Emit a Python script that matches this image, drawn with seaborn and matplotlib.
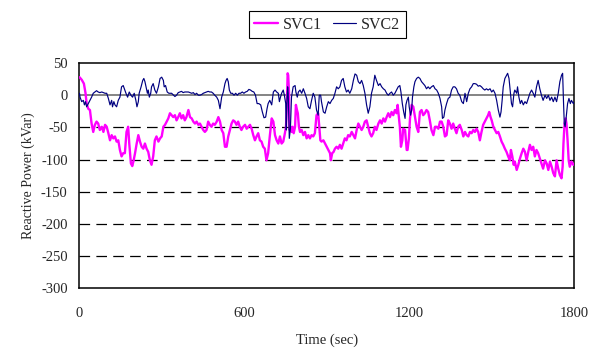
import numpy as np
import pandas as pd
import matplotlib
matplotlib.use("Agg")
import matplotlib.pyplot as plt
import seaborn as sns

# SVC1 reactive power (kVar)
svc1_time = [0, 8, 16, 22, 26, 32, 38, 44, 50, 56, 62, 68, 74, 81, 87, 93, 99, 105, 111, 117,
             123, 129, 135, 141, 147, 153, 159, 165, 171, 177, 181, 187, 192, 197, 202, 208, 214, 220, 226, 232,
             238, 244, 250, 256, 262, 268, 274, 280, 287, 293, 299, 305, 311, 317, 323, 329, 335, 341,
             347, 353, 359, 365, 371, 377, 383, 389, 396, 402, 408, 414, 420, 426, 432, 438, 444, 450, 456, 462,
             468, 474, 480, 486, 492, 499, 505, 511, 517, 523, 529, 535, 541, 547, 553, 559, 565, 571, 577, 583,
             589, 595, 602, 608, 614, 620, 626, 632, 638, 644, 650, 656, 662, 668, 674, 680, 686, 692, 699, 705,
             711, 717, 723, 729, 735, 741, 747, 751, 754, 757, 759, 762, 764, 768, 771, 775, 779, 784, 787, 791,
             794, 798, 802, 808, 814, 820, 826, 832, 838, 844, 850, 856, 862, 868, 872, 876, 880, 887, 893, 899,
             905, 911, 914, 919, 924, 929, 935, 941, 947, 953, 959, 965, 971, 977, 983, 990, 996, 1002, 1008, 1014,
             1020, 1026, 1032, 1038, 1044, 1050, 1056, 1062, 1068,
             1074, 1080, 1087, 1093, 1099, 1105, 1111, 1117, 1123, 1129, 1135, 1141, 1147, 1153, 1157, 1162, 1165, 1169, 1174, 1177,
             1184, 1190, 1193, 1198, 1202, 1208, 1214, 1220, 1226, 1232, 1238, 1244, 1250, 1256, 1262, 1268, 1274, 1280, 1287, 1293,
             1299, 1305, 1311, 1317, 1323, 1329, 1335, 1341, 1347, 1353, 1359, 1365, 1371, 1377, 1383, 1390, 1396, 1402, 1408, 1414,
             1420, 1426, 1432,
             1438, 1444, 1450, 1456, 1462, 1468, 1474, 1480, 1486, 1490, 1495, 1499, 1505, 1511, 1517, 1523, 1529, 1535, 1541, 1547,
             1553, 1559, 1565, 1569, 1574, 1579, 1583, 1590, 1596, 1602, 1608, 1614, 1620, 1626, 1632, 1638, 1644, 1650, 1656, 1662,
             1668, 1674, 1680, 1686, 1693, 1699, 1705, 1711, 1717, 1723, 1729, 1735, 1741, 1747, 1753, 1757, 1760, 1764, 1768, 1771,
             1775, 1779, 1783, 1789, 1796, 1800]
svc1_kvar = [28, 24, 18, 3, -13, -21, -23, -44, -57, -46, -41, -44, -54, -49, -57, -46, -49, -59, -70, -62,
             -67, -64, -72, -70, -85, -95, -90, -90, -57, -49, -75, -106, -110, -101, -90, -75, -62, -72, -80, -83,
             -75, -83, -88, -101, -108, -95, -70, -64, -72, -67, -64, -49, -46, -41, -36, -28, -31, -34,
             -31, -39, -34, -28, -36, -31, -39, -34, -23, -34, -36, -41, -44, -41, -46, -44, -49, -54, -57, -54,
             -41, -46, -49, -44, -46, -41, -34, -41, -54, -59, -80, -80, -64, -54, -44, -39, -41, -46, -41, -49,
             -54, -49, -46, -52, -49, -46, -52, -62, -70, -64, -59, -70, -72, -80, -83, -101, -90, -64, -36, -41,
             -62, -70, -75, -64, -75, -72, -59, -49, -18, 34, 31, 3, -54, -49, -57, -49, -59, -49, -15, -23,
             -28, -49, -57, -54, -62, -57, -67, -62, -67, -62, -64, -59, -31, -28, -49, -70, -72, -70, -75, -80,
             -85, -90, -101, -90, -88, -83, -80, -83, -77, -83, -75, -67, -70, -62, -64, -57, -62, -67, -54, -44,
             -49, -54, -49, -41, -39, -49, -59, -64, -59,
             -49, -54, -44, -39, -44, -36, -41, -34, -28, -34, -26, -31, -23, -28, -15, -36, -49, -80, -70, -52,
             -54, -85, -85, -67, -36, -15, -18, -34, -49, -57, -26, -23, -31, -28, -23, -26, -39, -54, -62, -49,
             -49, -52, -41, -41, -49, -64, -62, -39, -44, -52, -44, -52, -59, -49, -46, -54, -64, -57, -62, -64,
             -57, -59, -54,
             -57, -52, -57, -70, -57, -46, -41, -36, -31, -26, -34, -39, -49, -54, -59, -57, -64, -72, -77, -83,
             -88, -95, -101, -85, -95, -108, -103, -116, -108, -98, -90, -83, -88, -101, -88, -77, -85, -80, -95, -85,
             -90, -98, -106, -114, -101, -106, -116, -103, -111, -121, -126, -101, -114, -124, -129, -111, -75, -44, -36, -44,
             -70, -101, -111, -103, -108, -106]

# SVC2 reactive power (kVar)
svc2_time = [0, 2, 8, 14, 18, 22, 26, 32, 38, 44, 50, 56, 62, 68, 74, 81, 87, 93, 99, 105,
             111, 117, 120, 125, 129, 135, 141, 147, 153, 159, 165, 169, 175, 181, 187, 193, 199, 205, 209, 214,
             217, 224, 230, 234, 238, 242, 247, 250, 254, 259, 262, 268, 274, 280, 287, 293, 299, 305, 308, 313,
             319, 325, 335,
             347, 353, 359, 365, 371, 377, 383, 396, 402, 408, 414, 420, 426, 432, 438, 444, 450, 456, 462, 468,
             474, 480, 486, 492, 499, 505, 511, 517, 523, 529, 533, 537, 541, 545, 550, 556, 562, 568, 574, 580,
             586, 592, 598, 604, 610, 616, 622, 628, 634, 640, 646, 652, 659, 665, 671, 677, 682, 686, 692, 699,
             705,
             711, 717, 723, 727, 731, 735, 741, 745, 750, 752, 754, 757, 759, 763, 767, 771, 777, 784, 787, 792,
             796, 802, 808, 814, 820, 826, 832, 838, 844, 850, 856, 862, 868, 872, 877, 880, 887, 893, 899, 905,
             911, 917, 923, 929, 935, 941, 947, 953, 959, 965, 971, 977, 983, 990, 996, 1002, 1008, 1014, 1020, 1026,
             1032, 1038, 1044, 1050, 1056, 1062, 1068,
             1074, 1080, 1087, 1093, 1099, 1105, 1111, 1117, 1123, 1129, 1135, 1141, 1147, 1153, 1159, 1165, 1169, 1174, 1179, 1184,
             1187, 1191, 1196, 1199, 1204, 1208, 1211, 1216, 1220, 1226, 1232, 1238, 1244, 1250, 1256, 1262, 1268, 1274, 1280, 1287,
             1293, 1299, 1305, 1311, 1317, 1320, 1325, 1329, 1335, 1341, 1347, 1353, 1359, 1365, 1371, 1377, 1383, 1390, 1396, 1402,
             1408, 1414, 1420, 1426, 1432,
             1438, 1444, 1450, 1456, 1462, 1468, 1474, 1480, 1486, 1493, 1499, 1505, 1511, 1517, 1523, 1529, 1533, 1537, 1541, 1547,
             1553, 1557, 1562, 1566, 1571, 1575, 1580, 1583, 1590, 1593, 1598, 1603, 1608, 1614, 1620, 1626, 1632, 1638, 1644, 1650,
             1656, 1662, 1668, 1674, 1680, 1686, 1693, 1699, 1705, 1711, 1717, 1723, 1729, 1735, 1741, 1747, 1753, 1757, 1760, 1763,
             1766, 1770, 1775, 1780, 1785, 1789, 1796, 1800]
svc2_kvar = [3, -3, -10, -8, -15, -10, -18, -13, -8, -3, 3, 5, 7, 5, 4, 5, 4, 3, 3, -5,
             -15, -8, -18, -10, -15, -18, -8, -3, 13, 15, 8, 3, -3, 5, 0, -3, 3, -8, -18, -10,
             3, 13, 23, 26, 21, 13, 3, 8, -3, 3, 13, 18, 8, 3, 13, 26, 28, 23, 13, 15,
             5, 3, 3,
             -2, 0, 4, 5, 6, 4, 5, 5, 4, 3, 4, 1, 3, 0, 0, 1, 3, 4, 5, 6,
             5, 5, 3, 0, -3, -8, -21, -3, 5, 18, 23, 26, 21, 8, 3, 3, 0, 3, 0, 3,
             3, 5, 3, 5, 6, 9, 8, 6, 5, 0, -13, -13, -15, -26, -35, -34, -21, -13, -8, -15,
             5,
             8, 5, 3, -10, -3, 3, 8, 0, -13, -54, -13, 13, 3, -67, -52, -3, 13, 15, 5, -3,
             5, 8, 3, 10, 3, -5, -18, -21, -8, 3, -3, -23, -31, 0, 0, -10, -26, -28, -18, -10,
             -13, -8, -5, 3, 13, 10, 13, 23, 26, 13, 5, 8, 3, 10, 23, 33, 31, 21, 18, 23,
             15, 3, -15, -28, -18, 3, 13,
             31, 23, 15, 18, 13, 10, 8, 3, 0, 3, 5, 0, 3, 8, 13, 15, 5, -13, -26, -36,
             -15, -8, -3, -18, -31, -23, -3, 13, 21, 26, 28, 26, 21, 18, 15, 10, 13, 10, 13, 15,
             10, 8, 3, -5, -18, -36, -34, -23, -13, -5, -3, 8, 13, 13, 10, 3, 0, -10, -13, 3,
             -10, 3, 10, 13, 18,
             18, 17, 14, 15, 13, 10, 8, 10, 8, 10, 5, 8, 3, -8, -23, -34, -26, -8, 13, 26,
             31, 34, 26, 8, -13, -18, 3, 8, 3, 13, -3, -13, -8, -15, -10, -13, -5, 3, 8, 3,
             -3, 13, 23, 10, 0, -8, 0, -5, 0, -8, -3, -10, -3, -10, 3, 21, 31, 34, -8, -44,
             -49, -34, -13, -5, -13, -8, -13, -10]

x_ticks = [0, 600, 1200, 1800]
y_ticks = [-300, -250, -200, -150, -100, -50, 0, 50]
dashed_levels = [-250, -200, -150, -100, -50]

df1 = pd.DataFrame({"time": svc1_time, "kvar": svc1_kvar})
df2 = pd.DataFrame({"time": svc2_time, "kvar": svc2_kvar})

sns.set_style("white")
plt.rcParams["font.family"] = ["Liberation Serif", "DejaVu Serif"]
plt.rcParams["axes.unicode_minus"] = False

fig, ax = plt.subplots(figsize=(5.91, 3.49), dpi=100)
fig.subplots_adjust(left=0.1345, right=0.972, top=0.8195, bottom=0.1734)

for lvl in dashed_levels:
    ax.axhline(lvl, color="black", lw=0.9, ls=(0, (8.5, 5)), zorder=1)
ax.axhline(0, color="#707070", lw=1.2, zorder=1)

sns.lineplot(data=df1, x="time", y="kvar", ax=ax, color="#FF00FF", lw=1.7,
             label="SVC1", estimator=None, sort=False, zorder=3)
sns.lineplot(data=df2, x="time", y="kvar", ax=ax, color="#000080", lw=0.85,
             label="SVC2", estimator=None, sort=False, zorder=4)

ax.set_xlim(0, 1800)
ax.set_ylim(-300, 50)
ax.set_xticks(x_ticks)
ax.set_yticks(y_ticks)
ax.tick_params(axis="x", length=0, pad=13, labelsize=10.5)
ax.tick_params(axis="y", length=0, pad=8.5, labelsize=10.5)
ax.set_xlabel("Time (sec)", fontsize=10.5, labelpad=10)
ax.set_ylabel("Reactive Power (kVar)", fontsize=10, labelpad=4)

for sp in ax.spines.values():
    sp.set_color("black")
    sp.set_linewidth(1.1)

ax.get_legend().remove()
handles, labels = ax.get_legend_handles_labels()
leg = fig.legend(handles, labels, loc="upper center", bbox_to_anchor=(0.554, 0.968),
                 ncol=2, fontsize=11.5, frameon=True, fancybox=False, framealpha=1,
                 edgecolor="black", borderpad=0.35, borderaxespad=0, handlelength=1.45,
                 handletextpad=0.35, columnspacing=0.65)
leg.get_frame().set_linewidth(0.8)

fig.savefig("out.png", dpi=100)
